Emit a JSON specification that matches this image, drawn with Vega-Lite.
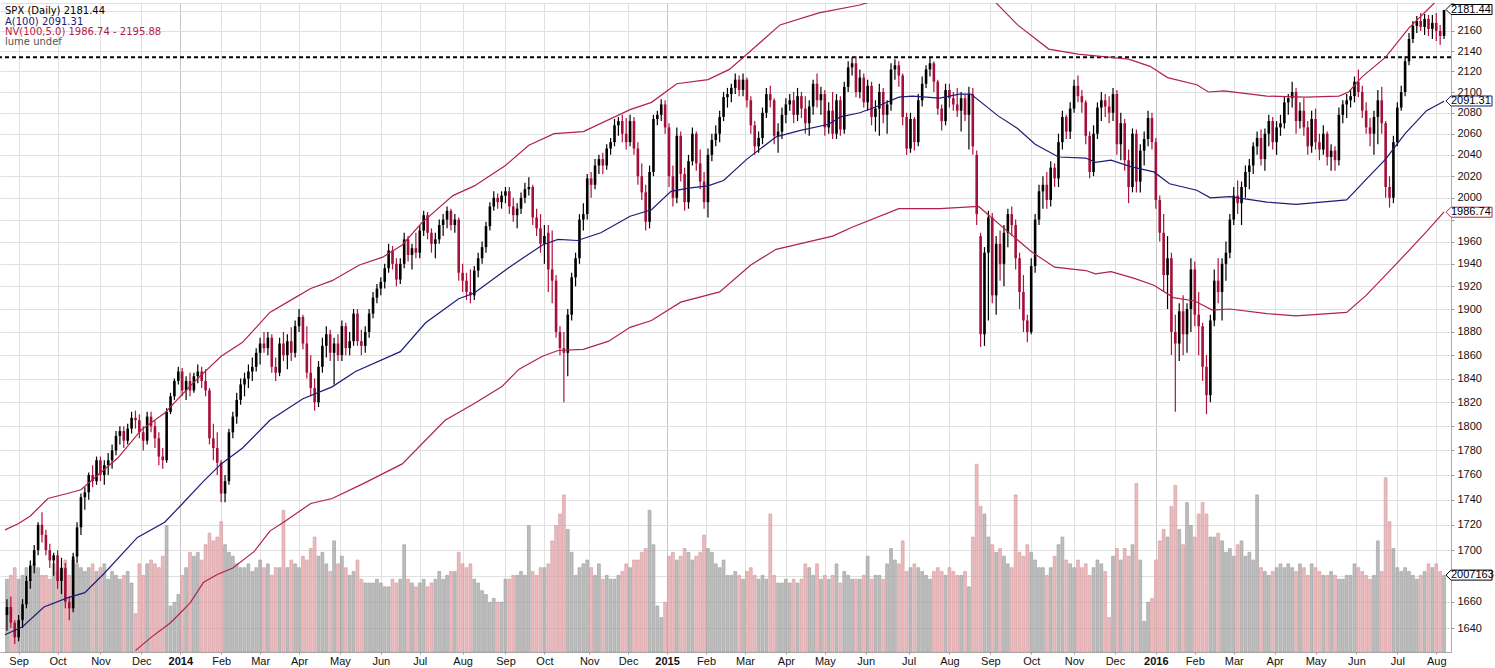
{
"$schema":"https://vega.github.io/schema/vega-lite/v6.json",
"width":1451,"height":649,
"autosize":{"type":"none"},
"padding":{"left":0,"top":3,"right":44,"bottom":16},
"background":"white",
"config":{"view":{"stroke":null},"font":"Liberation Sans"},
"datasets":{
"bars":[
{"d":1,"o":1650,"h":1662,"l":1638,"c":1656,"v":1.9},{"d":3,"o":1656,"h":1664,"l":1640,"c":1644,"v":2.0},{"d":5,"o":1644,"h":1646,"l":1628,"c":1633,"v":2.2},{"d":7,"o":1633,"h":1650,"l":1630,"c":1646,"v":1.9},{"d":9,"o":1646,"h":1662,"l":1640,"c":1658,"v":2.0},{"d":11,"o":1658,"h":1680,"l":1655,"c":1676,"v":2.2},{"d":13,"o":1676,"h":1692,"l":1670,"c":1688,"v":1.9},{"d":15,"o":1688,"h":1704,"l":1682,"c":1700,"v":2.3},{"d":17,"o":1700,"h":1722,"l":1696,"c":1720,"v":2.2},{"d":19,"o":1720,"h":1730,"l":1706,"c":1712,"v":2.0},
{"d":21,"o":1712,"h":1716,"l":1696,"c":1700,"v":2.0},{"d":23,"o":1700,"h":1705,"l":1686,"c":1692,"v":1.9},{"d":25,"o":1692,"h":1698,"l":1680,"c":1696,"v":2.3},{"d":27,"o":1696,"h":1700,"l":1670,"c":1676,"v":2.1},{"d":29,"o":1676,"h":1694,"l":1666,"c":1686,"v":2.2},{"d":31,"o":1686,"h":1690,"l":1655,"c":1660,"v":2.4},{"d":33,"o":1660,"h":1664,"l":1646,"c":1655,"v":2.0},{"d":35,"o":1655,"h":1698,"l":1652,"c":1695,"v":2.4},{"d":37,"o":1695,"h":1722,"l":1690,"c":1718,"v":2.3},{"d":39,"o":1718,"h":1745,"l":1712,"c":1742,"v":2.2},
{"d":41,"o":1742,"h":1750,"l":1732,"c":1746,"v":2.1},{"d":43,"o":1746,"h":1762,"l":1740,"c":1760,"v":2.2},{"d":45,"o":1760,"h":1768,"l":1750,"c":1755,"v":2.3},{"d":47,"o":1755,"h":1775,"l":1752,"c":1772,"v":2.1},{"d":49,"o":1772,"h":1775,"l":1755,"c":1760,"v":2.2},{"d":51,"o":1760,"h":1772,"l":1752,"c":1768,"v":2.3},{"d":53,"o":1768,"h":1778,"l":1760,"c":1772,"v":1.9},{"d":55,"o":1772,"h":1785,"l":1765,"c":1780,"v":2.1},{"d":57,"o":1780,"h":1796,"l":1776,"c":1792,"v":2.0},{"d":59,"o":1792,"h":1800,"l":1785,"c":1796,"v":1.9},
{"d":61,"o":1796,"h":1800,"l":1782,"c":1788,"v":2.0},{"d":63,"o":1788,"h":1802,"l":1785,"c":1798,"v":2.1},{"d":65,"o":1798,"h":1812,"l":1794,"c":1807,"v":1.8},{"d":67,"o":1807,"h":1813,"l":1798,"c":1805,"v":1.0},{"d":69,"o":1805,"h":1810,"l":1790,"c":1795,"v":2.3},{"d":71,"o":1795,"h":1800,"l":1780,"c":1788,"v":2.0},{"d":73,"o":1788,"h":1812,"l":1785,"c":1808,"v":2.3},{"d":75,"o":1808,"h":1812,"l":1795,"c":1800,"v":2.4},{"d":77,"o":1800,"h":1805,"l":1782,"c":1790,"v":2.3},{"d":79,"o":1790,"h":1795,"l":1768,"c":1775,"v":2.2},
{"d":81,"o":1775,"h":1782,"l":1765,"c":1772,"v":2.5},{"d":83,"o":1772,"h":1815,"l":1770,"c":1812,"v":3.3},{"d":85,"o":1812,"h":1828,"l":1810,"c":1825,"v":1.2},{"d":87,"o":1825,"h":1840,"l":1822,"c":1838,"v":1.3},{"d":89,"o":1838,"h":1850,"l":1835,"c":1846,"v":1.5},{"d":91,"o":1846,"h":1849,"l":1825,"c":1830,"v":2.0},{"d":93,"o":1830,"h":1842,"l":1822,"c":1838,"v":2.2},{"d":95,"o":1838,"h":1845,"l":1825,"c":1830,"v":2.6},{"d":97,"o":1830,"h":1845,"l":1828,"c":1842,"v":2.5},{"d":99,"o":1842,"h":1852,"l":1836,"c":1846,"v":2.6},
{"d":101,"o":1846,"h":1850,"l":1832,"c":1838,"v":2.4},{"d":103,"o":1838,"h":1848,"l":1825,"c":1830,"v":2.8},{"d":105,"o":1830,"h":1832,"l":1785,"c":1790,"v":3.1},{"d":107,"o":1790,"h":1802,"l":1772,"c":1782,"v":2.9},{"d":109,"o":1782,"h":1795,"l":1760,"c":1770,"v":3.0},{"d":111,"o":1770,"h":1772,"l":1738,"c":1745,"v":3.4},{"d":113,"o":1745,"h":1760,"l":1738,"c":1755,"v":2.8},{"d":115,"o":1755,"h":1798,"l":1752,"c":1795,"v":2.6},{"d":117,"o":1795,"h":1812,"l":1790,"c":1808,"v":2.5},{"d":119,"o":1808,"h":1828,"l":1802,"c":1822,"v":2.3},
{"d":121,"o":1822,"h":1840,"l":1818,"c":1835,"v":2.2},{"d":123,"o":1835,"h":1845,"l":1825,"c":1840,"v":2.2},{"d":125,"o":1840,"h":1852,"l":1832,"c":1846,"v":2.3},{"d":127,"o":1846,"h":1858,"l":1838,"c":1850,"v":2.1},{"d":129,"o":1850,"h":1866,"l":1846,"c":1862,"v":2.2},{"d":131,"o":1862,"h":1875,"l":1852,"c":1870,"v":2.4},{"d":133,"o":1870,"h":1880,"l":1862,"c":1866,"v":2.2},{"d":135,"o":1866,"h":1880,"l":1860,"c":1875,"v":2.3},{"d":137,"o":1875,"h":1878,"l":1845,"c":1850,"v":2.0},{"d":139,"o":1850,"h":1858,"l":1838,"c":1845,"v":2.2},
{"d":141,"o":1845,"h":1875,"l":1842,"c":1870,"v":2.2},{"d":143,"o":1870,"h":1880,"l":1855,"c":1860,"v":3.7},{"d":145,"o":1860,"h":1878,"l":1848,"c":1872,"v":2.2},{"d":147,"o":1872,"h":1884,"l":1855,"c":1862,"v":2.4},{"d":149,"o":1862,"h":1890,"l":1858,"c":1885,"v":2.3},{"d":151,"o":1885,"h":1900,"l":1880,"c":1893,"v":2.2},{"d":153,"o":1893,"h":1895,"l":1865,"c":1870,"v":2.5},{"d":155,"o":1870,"h":1885,"l":1840,"c":1845,"v":2.4},{"d":157,"o":1845,"h":1860,"l":1825,"c":1832,"v":2.7},{"d":159,"o":1832,"h":1840,"l":1813,"c":1820,"v":3.0},
{"d":161,"o":1820,"h":1855,"l":1816,"c":1850,"v":2.5},{"d":163,"o":1850,"h":1875,"l":1845,"c":1868,"v":2.6},{"d":165,"o":1868,"h":1885,"l":1858,"c":1878,"v":2.3},{"d":167,"o":1878,"h":1882,"l":1855,"c":1862,"v":2.1},{"d":169,"o":1862,"h":1875,"l":1835,"c":1870,"v":2.9},{"d":171,"o":1870,"h":1878,"l":1855,"c":1860,"v":2.3},{"d":173,"o":1860,"h":1890,"l":1855,"c":1885,"v":2.5},{"d":175,"o":1885,"h":1888,"l":1860,"c":1866,"v":2.2},{"d":177,"o":1866,"h":1880,"l":1860,"c":1872,"v":2.0},{"d":179,"o":1872,"h":1900,"l":1868,"c":1896,"v":2.1},
{"d":181,"o":1896,"h":1900,"l":1868,"c":1872,"v":2.4},{"d":183,"o":1872,"h":1882,"l":1860,"c":1868,"v":1.9},{"d":185,"o":1868,"h":1885,"l":1862,"c":1880,"v":1.8},{"d":187,"o":1880,"h":1900,"l":1875,"c":1896,"v":1.8},{"d":189,"o":1896,"h":1915,"l":1892,"c":1910,"v":1.8},{"d":191,"o":1910,"h":1922,"l":1905,"c":1918,"v":1.9},{"d":193,"o":1918,"h":1928,"l":1912,"c":1924,"v":1.8},{"d":195,"o":1924,"h":1940,"l":1918,"c":1936,"v":1.7},{"d":197,"o":1936,"h":1958,"l":1932,"c":1952,"v":1.7},{"d":199,"o":1952,"h":1956,"l":1935,"c":1940,"v":1.9},
{"d":201,"o":1940,"h":1945,"l":1920,"c":1926,"v":1.8},{"d":203,"o":1926,"h":1945,"l":1922,"c":1940,"v":1.9},{"d":205,"o":1940,"h":1968,"l":1936,"c":1962,"v":2.8},{"d":207,"o":1962,"h":1965,"l":1942,"c":1948,"v":1.9},{"d":209,"o":1948,"h":1958,"l":1935,"c":1954,"v":1.8},{"d":211,"o":1954,"h":1968,"l":1945,"c":1950,"v":1.7},{"d":213,"o":1950,"h":1975,"l":1945,"c":1970,"v":1.8},{"d":215,"o":1970,"h":1988,"l":1965,"c":1984,"v":1.9},{"d":217,"o":1984,"h":1987,"l":1962,"c":1968,"v":1.7},{"d":219,"o":1968,"h":1972,"l":1950,"c":1958,"v":1.8},
{"d":221,"o":1958,"h":1968,"l":1945,"c":1962,"v":1.9},{"d":223,"o":1962,"h":1980,"l":1958,"c":1975,"v":2.1},{"d":225,"o":1975,"h":1985,"l":1965,"c":1980,"v":1.9},{"d":227,"o":1980,"h":1992,"l":1972,"c":1988,"v":2.0},{"d":229,"o":1988,"h":1990,"l":1970,"c":1975,"v":2.1},{"d":231,"o":1975,"h":1985,"l":1968,"c":1980,"v":2.1},{"d":233,"o":1980,"h":1982,"l":1925,"c":1932,"v":2.6},{"d":235,"o":1932,"h":1940,"l":1915,"c":1925,"v":2.3},{"d":237,"o":1925,"h":1932,"l":1908,"c":1915,"v":2.2},{"d":239,"o":1915,"h":1935,"l":1905,"c":1912,"v":2.3},
{"d":241,"o":1912,"h":1938,"l":1908,"c":1934,"v":1.9},{"d":243,"o":1934,"h":1950,"l":1928,"c":1945,"v":1.8},{"d":245,"o":1945,"h":1960,"l":1940,"c":1955,"v":1.6},{"d":247,"o":1955,"h":1978,"l":1950,"c":1974,"v":1.5},{"d":249,"o":1974,"h":1996,"l":1970,"c":1992,"v":1.3},{"d":251,"o":1992,"h":2006,"l":1988,"c":2000,"v":1.4},{"d":253,"o":2000,"h":2004,"l":1990,"c":1996,"v":1.3},{"d":255,"o":1996,"h":2006,"l":1990,"c":2002,"v":1.3},{"d":257,"o":2002,"h":2010,"l":1995,"c":2006,"v":1.9},{"d":259,"o":2006,"h":2010,"l":1985,"c":1992,"v":1.9},
{"d":261,"o":1992,"h":2000,"l":1978,"c":1984,"v":2.0},{"d":263,"o":1984,"h":1995,"l":1972,"c":1990,"v":2.0},{"d":265,"o":1990,"h":2005,"l":1985,"c":2000,"v":2.1},{"d":267,"o":2000,"h":2014,"l":1995,"c":2008,"v":2.0},{"d":269,"o":2008,"h":2019,"l":2002,"c":2010,"v":3.3},{"d":271,"o":2010,"h":2012,"l":1975,"c":1982,"v":2.1},{"d":273,"o":1982,"h":1990,"l":1965,"c":1972,"v":2.0},{"d":275,"o":1972,"h":1985,"l":1950,"c":1958,"v":2.2},{"d":277,"o":1958,"h":1975,"l":1940,"c":1965,"v":2.2},{"d":279,"o":1968,"h":1975,"l":1915,"c":1935,"v":2.3},
{"d":281,"o":1935,"h":1970,"l":1905,"c":1925,"v":2.9},{"d":283,"o":1925,"h":1930,"l":1875,"c":1880,"v":3.3},{"d":285,"o":1880,"h":1885,"l":1860,"c":1866,"v":3.6},{"d":287,"o":1866,"h":1880,"l":1820,"c":1862,"v":4.1},{"d":289,"o":1862,"h":1900,"l":1842,"c":1895,"v":3.2},{"d":291,"o":1895,"h":1932,"l":1890,"c":1928,"v":2.6},{"d":293,"o":1928,"h":1950,"l":1920,"c":1945,"v":2.0},{"d":295,"o":1945,"h":1985,"l":1940,"c":1980,"v":2.2},{"d":297,"o":1980,"h":1995,"l":1970,"c":1985,"v":2.3},{"d":299,"o":1985,"h":2022,"l":1980,"c":2018,"v":2.4},
{"d":301,"o":2018,"h":2024,"l":2000,"c":2012,"v":2.2},{"d":303,"o":2012,"h":2036,"l":2008,"c":2030,"v":2.0},{"d":305,"o":2030,"h":2040,"l":2022,"c":2036,"v":2.3},{"d":307,"o":2036,"h":2042,"l":2022,"c":2030,"v":1.9},{"d":309,"o":2030,"h":2050,"l":2026,"c":2046,"v":2.0},{"d":311,"o":2046,"h":2056,"l":2040,"c":2052,"v":1.9},{"d":313,"o":2052,"h":2074,"l":2048,"c":2068,"v":1.9},{"d":315,"o":2068,"h":2076,"l":2058,"c":2072,"v":2.0},{"d":317,"o":2072,"h":2078,"l":2052,"c":2060,"v":2.1},{"d":319,"o":2060,"h":2075,"l":2045,"c":2052,"v":2.3},
{"d":321,"o":2052,"h":2078,"l":2048,"c":2072,"v":2.2},{"d":323,"o":2072,"h":2076,"l":2040,"c":2046,"v":2.4},{"d":325,"o":2046,"h":2052,"l":2012,"c":2020,"v":2.4},{"d":327,"o":2020,"h":2032,"l":1998,"c":2005,"v":2.6},{"d":329,"o":2005,"h":2012,"l":1970,"c":1978,"v":2.7},{"d":331,"o":1978,"h":2030,"l":1972,"c":2024,"v":3.7},{"d":333,"o":2024,"h":2078,"l":2020,"c":2074,"v":2.8},{"d":335,"o":2074,"h":2082,"l":2068,"c":2078,"v":1.2},{"d":337,"o":2078,"h":2093,"l":2072,"c":2088,"v":0.9},{"d":339,"o":2088,"h":2092,"l":2060,"c":2066,"v":1.3},
{"d":341,"o":2066,"h":2070,"l":2010,"c":2020,"v":2.5},{"d":343,"o":2020,"h":2030,"l":1992,"c":2000,"v":2.6},{"d":345,"o":2000,"h":2066,"l":1995,"c":2058,"v":2.4},{"d":347,"o":2058,"h":2062,"l":2015,"c":2022,"v":2.5},{"d":349,"o":2022,"h":2028,"l":1988,"c":1996,"v":2.7},{"d":351,"o":1996,"h":2040,"l":1990,"c":2034,"v":2.6},{"d":353,"o":2034,"h":2066,"l":2030,"c":2060,"v":2.4},{"d":355,"o":2060,"h":2062,"l":2025,"c":2032,"v":2.5},{"d":357,"o":2032,"h":2045,"l":2008,"c":2015,"v":2.6},{"d":359,"o":2015,"h":2024,"l":1990,"c":1996,"v":3.05},
{"d":361,"o":1996,"h":2046,"l":1982,"c":2040,"v":2.7},{"d":363,"o":2040,"h":2060,"l":2034,"c":2054,"v":2.6},{"d":365,"o":2054,"h":2068,"l":2048,"c":2060,"v":2.3},{"d":367,"o":2060,"h":2082,"l":2052,"c":2076,"v":2.2},{"d":369,"o":2076,"h":2100,"l":2072,"c":2095,"v":2.4},{"d":371,"o":2095,"h":2104,"l":2085,"c":2098,"v":2.0},{"d":373,"o":2098,"h":2108,"l":2090,"c":2104,"v":2.0},{"d":375,"o":2104,"h":2118,"l":2098,"c":2112,"v":2.1},{"d":377,"o":2112,"h":2116,"l":2096,"c":2102,"v":2.0},{"d":379,"o":2102,"h":2118,"l":2096,"c":2112,"v":1.9},
{"d":381,"o":2112,"h":2114,"l":2085,"c":2092,"v":2.1},{"d":383,"o":2092,"h":2096,"l":2060,"c":2068,"v":2.2},{"d":385,"o":2068,"h":2072,"l":2040,"c":2048,"v":2.0},{"d":387,"o":2048,"h":2062,"l":2042,"c":2056,"v":1.9},{"d":389,"o":2056,"h":2085,"l":2050,"c":2080,"v":2.0},{"d":391,"o":2080,"h":2104,"l":2075,"c":2098,"v":1.9},{"d":393,"o":2098,"h":2106,"l":2085,"c":2092,"v":3.6},{"d":395,"o":2092,"h":2094,"l":2050,"c":2058,"v":2.0},{"d":397,"o":2058,"h":2070,"l":2042,"c":2062,"v":1.8},{"d":399,"o":2062,"h":2085,"l":2055,"c":2078,"v":1.8},
{"d":401,"o":2078,"h":2094,"l":2070,"c":2088,"v":1.9},{"d":403,"o":2088,"h":2098,"l":2082,"c":2092,"v":1.8},{"d":405,"o":2092,"h":2100,"l":2070,"c":2078,"v":1.9},{"d":407,"o":2078,"h":2104,"l":2072,"c":2096,"v":1.8},{"d":409,"o":2096,"h":2100,"l":2075,"c":2084,"v":1.9},{"d":411,"o":2084,"h":2096,"l":2060,"c":2070,"v":2.3},{"d":413,"o":2070,"h":2092,"l":2058,"c":2086,"v":2.2},{"d":415,"o":2086,"h":2112,"l":2078,"c":2108,"v":2.0},{"d":417,"o":2108,"h":2118,"l":2085,"c":2092,"v":2.3},{"d":419,"o":2092,"h":2105,"l":2078,"c":2098,"v":1.9},
{"d":421,"o":2098,"h":2102,"l":2058,"c":2066,"v":2.0},{"d":423,"o":2066,"h":2090,"l":2060,"c":2082,"v":1.9},{"d":425,"o":2082,"h":2100,"l":2055,"c":2060,"v":2.0},{"d":427,"o":2060,"h":2098,"l":2055,"c":2092,"v":2.3},{"d":429,"o":2092,"h":2096,"l":2058,"c":2064,"v":1.8},{"d":431,"o":2064,"h":2110,"l":2060,"c":2105,"v":2.1},{"d":433,"o":2105,"h":2130,"l":2100,"c":2124,"v":2.0},{"d":435,"o":2124,"h":2134,"l":2116,"c":2128,"v":1.9},{"d":437,"o":2128,"h":2135,"l":2095,"c":2100,"v":1.9},{"d":439,"o":2100,"h":2122,"l":2094,"c":2114,"v":1.9},
{"d":441,"o":2114,"h":2118,"l":2085,"c":2090,"v":2.0},{"d":443,"o":2090,"h":2112,"l":2082,"c":2106,"v":2.5},{"d":445,"o":2106,"h":2110,"l":2068,"c":2076,"v":1.9},{"d":447,"o":2076,"h":2092,"l":2062,"c":2084,"v":2.0},{"d":449,"o":2084,"h":2108,"l":2058,"c":2100,"v":2.0},{"d":451,"o":2100,"h":2104,"l":2070,"c":2078,"v":1.9},{"d":453,"o":2078,"h":2092,"l":2060,"c":2088,"v":2.3},{"d":455,"o":2088,"h":2128,"l":2082,"c":2122,"v":2.7},{"d":457,"o":2122,"h":2132,"l":2112,"c":2126,"v":2.4},{"d":459,"o":2126,"h":2130,"l":2105,"c":2116,"v":2.3},
{"d":461,"o":2116,"h":2118,"l":2068,"c":2076,"v":2.9},{"d":463,"o":2076,"h":2080,"l":2040,"c":2046,"v":2.1},{"d":465,"o":2046,"h":2080,"l":2042,"c":2074,"v":2.2},{"d":467,"o":2074,"h":2076,"l":2044,"c":2052,"v":2.3},{"d":469,"o":2052,"h":2098,"l":2048,"c":2092,"v":2.2},{"d":471,"o":2092,"h":2115,"l":2086,"c":2108,"v":2.1},{"d":473,"o":2108,"h":2126,"l":2104,"c":2122,"v":2.0},{"d":475,"o":2122,"h":2134,"l":2115,"c":2128,"v":1.9},{"d":477,"o":2128,"h":2130,"l":2100,"c":2110,"v":2.1},{"d":479,"o":2110,"h":2112,"l":2078,"c":2084,"v":2.2},
{"d":481,"o":2084,"h":2088,"l":2063,"c":2072,"v":2.1},{"d":483,"o":2072,"h":2108,"l":2068,"c":2102,"v":2.0},{"d":485,"o":2102,"h":2108,"l":2085,"c":2094,"v":2.2},{"d":487,"o":2094,"h":2100,"l":2082,"c":2088,"v":2.1},{"d":489,"o":2088,"h":2104,"l":2076,"c":2082,"v":2.0},{"d":491,"o":2082,"h":2100,"l":2062,"c":2094,"v":2.0},{"d":493,"o":2094,"h":2098,"l":2072,"c":2078,"v":2.1},{"d":495,"o":2078,"h":2105,"l":2045,"c":2098,"v":1.7},{"d":497,"o":2098,"h":2104,"l":2040,"c":2048,"v":3.0},{"d":499,"o":2040,"h":2044,"l":1975,"c":1985,"v":4.9},
{"d":501,"o":1965,"h":1968,"l":1867,"c":1878,"v":3.8},{"d":503,"o":1878,"h":1955,"l":1868,"c":1950,"v":3.6},{"d":505,"o":1950,"h":1988,"l":1890,"c":1982,"v":3.0},{"d":507,"o":1982,"h":1986,"l":1905,"c":1912,"v":2.8},{"d":509,"o":1912,"h":1965,"l":1895,"c":1958,"v":2.6},{"d":511,"o":1958,"h":1970,"l":1925,"c":1940,"v":2.7},{"d":513,"o":1940,"h":1975,"l":1920,"c":1968,"v":2.5},{"d":515,"o":1968,"h":1990,"l":1955,"c":1985,"v":2.3},{"d":517,"o":1985,"h":1992,"l":1965,"c":1975,"v":2.2},{"d":519,"o":1975,"h":1980,"l":1935,"c":1945,"v":4.1},
{"d":521,"o":1945,"h":1950,"l":1900,"c":1915,"v":2.6},{"d":523,"o":1915,"h":1930,"l":1880,"c":1890,"v":2.5},{"d":525,"o":1890,"h":1895,"l":1871,"c":1880,"v":2.8},{"d":527,"o":1880,"h":1945,"l":1878,"c":1938,"v":2.6},{"d":529,"o":1938,"h":1985,"l":1932,"c":1980,"v":2.4},{"d":531,"o":1980,"h":2012,"l":1975,"c":2006,"v":2.2},{"d":533,"o":2006,"h":2020,"l":1990,"c":2012,"v":2.2},{"d":535,"o":2012,"h":2024,"l":1990,"c":1998,"v":2.0},{"d":537,"o":1998,"h":2034,"l":1992,"c":2028,"v":2.2},{"d":539,"o":2028,"h":2032,"l":2010,"c":2018,"v":2.5},
{"d":541,"o":2018,"h":2060,"l":2010,"c":2052,"v":2.8},{"d":543,"o":2052,"h":2082,"l":2045,"c":2076,"v":3.0},{"d":545,"o":2076,"h":2078,"l":2055,"c":2062,"v":2.4},{"d":547,"o":2062,"h":2090,"l":2055,"c":2084,"v":2.3},{"d":549,"o":2084,"h":2112,"l":2080,"c":2106,"v":2.2},{"d":551,"o":2106,"h":2116,"l":2090,"c":2096,"v":2.4},{"d":553,"o":2096,"h":2102,"l":2080,"c":2090,"v":2.2},{"d":555,"o":2090,"h":2092,"l":2050,"c":2058,"v":2.3},{"d":557,"o":2058,"h":2062,"l":2018,"c":2024,"v":2.0},{"d":559,"o":2024,"h":2068,"l":2020,"c":2060,"v":2.2},
{"d":561,"o":2060,"h":2090,"l":2055,"c":2085,"v":2.4},{"d":563,"o":2085,"h":2100,"l":2072,"c":2092,"v":2.3},{"d":565,"o":2092,"h":2098,"l":2076,"c":2086,"v":2.1},{"d":567,"o":2086,"h":2096,"l":2070,"c":2080,"v":0.9},{"d":569,"o":2080,"h":2104,"l":2072,"c":2098,"v":2.5},{"d":571,"o":2098,"h":2102,"l":2040,"c":2050,"v":2.7},{"d":573,"o":2050,"h":2080,"l":2035,"c":2070,"v":2.4},{"d":575,"o":2070,"h":2074,"l":2025,"c":2035,"v":2.7},{"d":577,"o":2035,"h":2045,"l":1995,"c":2010,"v":2.5},{"d":579,"o":2010,"h":2065,"l":2005,"c":2060,"v":2.8},
{"d":581,"o":2060,"h":2064,"l":2005,"c":2015,"v":4.4},{"d":583,"o":2015,"h":2050,"l":2005,"c":2044,"v":2.4},{"d":585,"o":2044,"h":2062,"l":2030,"c":2055,"v":0.8},{"d":587,"o":2055,"h":2082,"l":2048,"c":2075,"v":1.3},{"d":589,"o":2075,"h":2080,"l":2045,"c":2052,"v":1.4},{"d":591,"o":2052,"h":2056,"l":1990,"c":1998,"v":2.4},{"d":593,"o":1998,"h":2002,"l":1960,"c":1968,"v":2.9},{"d":595,"o":1968,"h":1985,"l":1915,"c":1930,"v":3.2},{"d":597,"o":1930,"h":1965,"l":1900,"c":1945,"v":3.0},{"d":599,"o":1945,"h":1950,"l":1860,"c":1880,"v":3.8},
{"d":601,"o":1880,"h":1895,"l":1812,"c":1870,"v":4.35},{"d":603,"o":1870,"h":1905,"l":1855,"c":1898,"v":3.2},{"d":605,"o":1898,"h":1912,"l":1860,"c":1878,"v":2.8},{"d":607,"o":1878,"h":1905,"l":1862,"c":1900,"v":3.9},{"d":609,"o":1900,"h":1945,"l":1880,"c":1935,"v":3.3},{"d":611,"o":1935,"h":1942,"l":1885,"c":1895,"v":3.0},{"d":613,"o":1895,"h":1915,"l":1860,"c":1885,"v":3.6},{"d":615,"o":1885,"h":1888,"l":1838,"c":1850,"v":3.9},{"d":617,"o":1850,"h":1860,"l":1810,"c":1826,"v":3.6},{"d":619,"o":1826,"h":1895,"l":1820,"c":1890,"v":3.0},
{"d":621,"o":1890,"h":1935,"l":1885,"c":1925,"v":3.0},{"d":623,"o":1925,"h":1945,"l":1905,"c":1915,"v":3.1},{"d":625,"o":1915,"h":1945,"l":1890,"c":1940,"v":2.9},{"d":627,"o":1940,"h":1960,"l":1925,"c":1950,"v":2.6},{"d":629,"o":1950,"h":1985,"l":1945,"c":1980,"v":2.7},{"d":631,"o":1980,"h":2010,"l":1975,"c":2002,"v":2.5},{"d":633,"o":2002,"h":2016,"l":1985,"c":1995,"v":2.8},{"d":635,"o":1995,"h":2015,"l":1975,"c":2010,"v":2.9},{"d":637,"o":2010,"h":2030,"l":2000,"c":2024,"v":2.5},{"d":639,"o":2024,"h":2036,"l":2008,"c":2030,"v":2.6},
{"d":641,"o":2030,"h":2052,"l":2022,"c":2048,"v":2.4},{"d":643,"o":2048,"h":2062,"l":2040,"c":2056,"v":4.1},{"d":645,"o":2056,"h":2064,"l":2030,"c":2036,"v":2.2},{"d":647,"o":2036,"h":2065,"l":2025,"c":2060,"v":2.1},{"d":649,"o":2060,"h":2078,"l":2048,"c":2072,"v":2.0},{"d":651,"o":2072,"h":2076,"l":2045,"c":2052,"v":2.1},{"d":653,"o":2052,"h":2072,"l":2040,"c":2066,"v":2.2},{"d":655,"o":2066,"h":2078,"l":2058,"c":2070,"v":2.3},{"d":657,"o":2070,"h":2096,"l":2065,"c":2090,"v":2.2},{"d":659,"o":2090,"h":2098,"l":2078,"c":2094,"v":2.3},
{"d":661,"o":2094,"h":2110,"l":2085,"c":2100,"v":2.2},{"d":663,"o":2100,"h":2104,"l":2060,"c":2072,"v":2.1},{"d":665,"o":2072,"h":2090,"l":2065,"c":2082,"v":2.3},{"d":667,"o":2082,"h":2094,"l":2058,"c":2066,"v":2.2},{"d":669,"o":2066,"h":2072,"l":2040,"c":2048,"v":2.0},{"d":671,"o":2048,"h":2082,"l":2042,"c":2074,"v":2.3},{"d":673,"o":2074,"h":2084,"l":2045,"c":2052,"v":2.2},{"d":675,"o":2052,"h":2060,"l":2035,"c":2045,"v":2.1},{"d":677,"o":2045,"h":2068,"l":2040,"c":2060,"v":2.0},{"d":679,"o":2060,"h":2062,"l":2030,"c":2038,"v":2.0},
{"d":681,"o":2038,"h":2050,"l":2025,"c":2044,"v":2.1},{"d":683,"o":2044,"h":2048,"l":2025,"c":2035,"v":2.0},{"d":685,"o":2035,"h":2085,"l":2030,"c":2078,"v":1.9},{"d":687,"o":2078,"h":2092,"l":2070,"c":2088,"v":1.9},{"d":689,"o":2088,"h":2098,"l":2075,"c":2092,"v":2.0},{"d":691,"o":2092,"h":2102,"l":2085,"c":2096,"v":2.0},{"d":693,"o":2096,"h":2115,"l":2090,"c":2110,"v":2.3},{"d":695,"o":2110,"h":2122,"l":2095,"c":2100,"v":2.2},{"d":697,"o":2100,"h":2106,"l":2075,"c":2082,"v":2.1},{"d":699,"o":2082,"h":2090,"l":2060,"c":2066,"v":2.0},
{"d":701,"o":2066,"h":2075,"l":2048,"c":2060,"v":1.9},{"d":703,"o":2060,"h":2082,"l":2040,"c":2076,"v":2.0},{"d":705,"o":2076,"h":2102,"l":2050,"c":2092,"v":2.9},{"d":707,"o":2092,"h":2105,"l":2060,"c":2070,"v":2.1},{"d":709,"o":2070,"h":2072,"l":2000,"c":2010,"v":4.55},{"d":711,"o":2010,"h":2020,"l":1991,"c":2000,"v":3.4},{"d":713,"o":2000,"h":2058,"l":1995,"c":2052,"v":2.7},{"d":715,"o":2052,"h":2090,"l":2048,"c":2085,"v":2.2},{"d":717,"o":2085,"h":2106,"l":2082,"c":2100,"v":2.1},{"d":719,"o":2100,"h":2135,"l":2096,"c":2130,"v":2.2},
{"d":721,"o":2130,"h":2158,"l":2126,"c":2152,"v":2.1},{"d":723,"o":2152,"h":2170,"l":2148,"c":2165,"v":2.0},{"d":725,"o":2165,"h":2175,"l":2158,"c":2170,"v":1.9},{"d":727,"o":2170,"h":2178,"l":2160,"c":2164,"v":2.0},{"d":729,"o":2164,"h":2177,"l":2156,"c":2172,"v":2.1},{"d":731,"o":2172,"h":2176,"l":2155,"c":2162,"v":2.3},{"d":733,"o":2162,"h":2176,"l":2152,"c":2168,"v":2.2},{"d":735,"o":2168,"h":2178,"l":2150,"c":2160,"v":2.3},{"d":737,"o":2160,"h":2166,"l":2146,"c":2155,"v":2.1},{"d":739,"o":2155,"h":2181,"l":2152,"c":2181,"v":2.0}
],
"bands":[
{"d":0,"s":"upper","p":1716},{"d":7,"s":"upper","p":1721},{"d":13,"s":"upper","p":1727},{"d":22,"s":"upper","p":1741},{"d":32,"s":"upper","p":1745},{"d":39,"s":"upper","p":1748},{"d":58,"s":"upper","p":1774},{"d":70,"s":"upper","p":1797},{"d":82,"s":"upper","p":1811},{"d":97,"s":"upper","p":1837},{"d":111,"s":"upper","p":1859},{"d":122,"s":"upper","p":1871},{"d":136,"s":"upper","p":1897},{"d":149,"s":"upper","p":1910},{"d":157,"s":"upper","p":1918},{"d":168,"s":"upper","p":1925},{"d":182,"s":"upper","p":1939},{"d":194,"s":"upper","p":1946},{"d":204,"s":"upper","p":1957},{"d":214,"s":"upper","p":1977},{"d":230,"s":"upper","p":2002},{"d":241,"s":"upper","p":2011},{"d":257,"s":"upper","p":2030},{"d":269,"s":"upper","p":2049},{"d":282,"s":"upper","p":2060},{"d":297,"s":"upper","p":2062},{"d":321,"s":"upper","p":2083},{"d":332,"s":"upper","p":2090},{"d":345,"s":"upper","p":2108},{"d":361,"s":"upper","p":2112},{"d":372,"s":"upper","p":2122},{"d":384,"s":"upper","p":2142},{"d":398,"s":"upper","p":2166},{"d":418,"s":"upper","p":2178},{"d":439,"s":"upper","p":2186},{"d":449,"s":"upper","p":2192},{"d":477,"s":"upper","p":2215},{"d":508,"s":"upper","p":2190},{"d":520,"s":"upper","p":2166},{"d":536,"s":"upper","p":2142},{"d":551,"s":"upper","p":2137},{"d":577,"s":"upper","p":2132},{"d":588,"s":"upper","p":2125},{"d":597,"s":"upper","p":2114},{"d":612,"s":"upper","p":2107},{"d":618,"s":"upper","p":2100},{"d":626,"s":"upper","p":2101},{"d":648,"s":"upper","p":2096},{"d":668,"s":"upper","p":2095},{"d":685,"s":"upper","p":2096},{"d":690,"s":"upper","p":2100},{"d":697,"s":"upper","p":2115},{"d":709,"s":"upper","p":2134},{"d":721,"s":"upper","p":2163},{"d":734,"s":"upper","p":2188},{"d":739,"s":"upper","p":2196},
{"d":0,"s":"ma","p":1635},{"d":9,"s":"ma","p":1641},{"d":20,"s":"ma","p":1656},{"d":32,"s":"ma","p":1663},{"d":41,"s":"ma","p":1667},{"d":51,"s":"ma","p":1682},{"d":68,"s":"ma","p":1710},{"d":82,"s":"ma","p":1722},{"d":90,"s":"ma","p":1735},{"d":102,"s":"ma","p":1755},{"d":111,"s":"ma","p":1769},{"d":122,"s":"ma","p":1782},{"d":136,"s":"ma","p":1805},{"d":153,"s":"ma","p":1823},{"d":168,"s":"ma","p":1833},{"d":180,"s":"ma","p":1846},{"d":203,"s":"ma","p":1863},{"d":216,"s":"ma","p":1888},{"d":233,"s":"ma","p":1909},{"d":241,"s":"ma","p":1914},{"d":259,"s":"ma","p":1937},{"d":276,"s":"ma","p":1957},{"d":284,"s":"ma","p":1962},{"d":294,"s":"ma","p":1961},{"d":306,"s":"ma","p":1968},{"d":321,"s":"ma","p":1983},{"d":332,"s":"ma","p":1989},{"d":342,"s":"ma","p":2006},{"d":351,"s":"ma","p":2009},{"d":361,"s":"ma","p":2011},{"d":369,"s":"ma","p":2016},{"d":381,"s":"ma","p":2036},{"d":396,"s":"ma","p":2057},{"d":408,"s":"ma","p":2063},{"d":423,"s":"ma","p":2069},{"d":429,"s":"ma","p":2076},{"d":439,"s":"ma","p":2080},{"d":449,"s":"ma","p":2087},{"d":459,"s":"ma","p":2095},{"d":466,"s":"ma","p":2096},{"d":480,"s":"ma","p":2094},{"d":490,"s":"ma","p":2098},{"d":496,"s":"ma","p":2098},{"d":510,"s":"ma","p":2077},{"d":520,"s":"ma","p":2065},{"d":529,"s":"ma","p":2050},{"d":541,"s":"ma","p":2038},{"d":555,"s":"ma","p":2037},{"d":560,"s":"ma","p":2033},{"d":568,"s":"ma","p":2035},{"d":578,"s":"ma","p":2029},{"d":590,"s":"ma","p":2024},{"d":598,"s":"ma","p":2013},{"d":612,"s":"ma","p":2007},{"d":619,"s":"ma","p":2000},{"d":629,"s":"ma","p":2001},{"d":648,"s":"ma","p":1996},{"d":663,"s":"ma","p":1994},{"d":689,"s":"ma","p":1998},{"d":699,"s":"ma","p":2017},{"d":709,"s":"ma","p":2036},{"d":719,"s":"ma","p":2060},{"d":730,"s":"ma","p":2082},{"d":739,"s":"ma","p":2091},
{"d":67,"s":"lower","p":1623},{"d":75,"s":"lower","p":1633},{"d":85,"s":"lower","p":1644},{"d":95,"s":"lower","p":1659},{"d":102,"s":"lower","p":1675},{"d":109,"s":"lower","p":1681},{"d":117,"s":"lower","p":1686},{"d":128,"s":"lower","p":1699},{"d":136,"s":"lower","p":1715},{"d":144,"s":"lower","p":1723},{"d":157,"s":"lower","p":1737},{"d":168,"s":"lower","p":1741},{"d":184,"s":"lower","p":1753},{"d":204,"s":"lower","p":1769},{"d":226,"s":"lower","p":1805},{"d":241,"s":"lower","p":1819},{"d":255,"s":"lower","p":1833},{"d":264,"s":"lower","p":1848},{"d":276,"s":"lower","p":1859},{"d":284,"s":"lower","p":1864},{"d":297,"s":"lower","p":1865},{"d":310,"s":"lower","p":1872},{"d":321,"s":"lower","p":1884},{"d":332,"s":"lower","p":1890},{"d":347,"s":"lower","p":1906},{"d":367,"s":"lower","p":1915},{"d":383,"s":"lower","p":1939},{"d":396,"s":"lower","p":1953},{"d":425,"s":"lower","p":1965},{"d":435,"s":"lower","p":1973},{"d":459,"s":"lower","p":1990},{"d":480,"s":"lower","p":1990},{"d":500,"s":"lower","p":1992},{"d":515,"s":"lower","p":1969},{"d":527,"s":"lower","p":1951},{"d":539,"s":"lower","p":1937},{"d":555,"s":"lower","p":1934},{"d":560,"s":"lower","p":1931},{"d":568,"s":"lower","p":1933},{"d":580,"s":"lower","p":1927},{"d":590,"s":"lower","p":1921},{"d":600,"s":"lower","p":1910},{"d":611,"s":"lower","p":1907},{"d":620,"s":"lower","p":1899},{"d":629,"s":"lower","p":1900},{"d":648,"s":"lower","p":1896},{"d":663,"s":"lower","p":1894},{"d":689,"s":"lower","p":1897},{"d":699,"s":"lower","p":1912},{"d":714,"s":"lower","p":1939},{"d":730,"s":"lower","p":1969},{"d":739,"s":"lower","p":1987}
]
},
"data":{"name":"bars"},
"layer":[
{"layer":[
{"mark":{"type":"bar","width":2.8,"strokeWidth":0.7,"opacity":0.8},
"encoding":{
"x":{"field":"d","type":"quantitative","scale":{"domain":[0,740],"nice":false,"zero":false},"title":null,
"axis":{"orient":"bottom","values":[7,27,49,70,90,111,131,151,172,193,213,235,257,277,300,320,340,360,380,401,421,442,464,485,506,527,549,570,591,611,631,652,673,694,715,735],
"labelExpr":"{'7':'Sep','27':'Oct','49':'Nov','70':'Dec','90':'2014','111':'Feb','131':'Mar','151':'Apr','172':'May','193':'Jun','213':'Jul','235':'Aug','257':'Sep','277':'Oct','300':'Nov','320':'Dec','340':'2015','360':'Feb','380':'Mar','401':'Apr','421':'May','442':'Jun','464':'Jul','485':'Aug','506':'Sep','527':'Oct','549':'Nov','570':'Dec','591':'2016','611':'Feb','631':'Mar','652':'Apr','673':'May','694':'Jun','715':'Jul','735':'Aug'}[datum.value]",
"labelFontSize":11,"labelColor":"#111","labelPadding":1,"tickSize":2,"tickColor":"#999","domainColor":"#aaa","grid":true,"gridColor":{"condition":{"test":"datum.value===90||datum.value===340||datum.value===591","value":"#c4c4c4"},"value":"#e0e0e0"},
"labelFontWeight":{"condition":{"test":"datum.value===90||datum.value===340||datum.value===591","value":"bold"},"value":"normal"},"labelOverlap":false,"labelBound":false,"labelFlush":false}},
"y":{"field":"v","type":"quantitative","scale":{"domain":[0,16.94],"nice":false},"axis":null},
"fill":{"condition":{"test":"datum.c<datum.o","value":"#eaa9ad"},"value":"#adadad"},
"stroke":{"condition":{"test":"datum.c<datum.o","value":"#c98a8e"},"value":"#8c8c8c"}}},
{"data":{"values":[{"label":"2007163"}]},"mark":{"type":"point","shape":"M0,0 L5,-5 L46,-5 L46,5 L5,5 Z","size":4,"filled":true,"fill":"white","stroke":"black","strokeWidth":1,"opacity":1,"clip":false},
"encoding":{"x":{"datum":740,"type":"quantitative"},"y":{"datum":2.007,"type":"quantitative"}}},
{"data":{"values":[{"label":"2007163"}]},"mark":{"type":"text","align":"left","baseline":"middle","dx":5,"fontSize":11,"color":"black"},
"encoding":{"x":{"datum":740,"type":"quantitative"},"y":{"datum":2.007,"type":"quantitative"},"text":{"field":"label"}}}
]},
{"layer":[
{"data":{"values":[{"level":2134}]},"mark":{"type":"rule","color":"black","strokeWidth":2,"strokeDash":[4,3]},
"encoding":{"y":{"field":"level","type":"quantitative","title":null,"scale":{"type":"log","domain":[1622,2188],"nice":false,"zero":false},
"axis":{"orient":"right","values":[1640,1660,1680,1700,1720,1740,1760,1780,1800,1820,1840,1860,1880,1900,1920,1940,1960,1980,2000,2020,2040,2060,2080,2100,2120,2140,2160,2180,2188],"format":"d","labelExpr":"datum.value===2180||datum.value===2188||datum.value===1980||datum.value===1680?'':datum.label","labelFontSize":11,"labelColor":"#111","labelPadding":3,"tickSize":3,"tickColor":"#999","domainColor":"#aaa","grid":true,"gridColor":"#e0e0e0","labelOverlap":false,"labelBound":false,"labelFlush":false}}}},
{"mark":{"type":"rule","strokeWidth":1.2,"clip":true},
"encoding":{"x":{"field":"d","type":"quantitative"},"y":{"field":"l","type":"quantitative"},"y2":{"field":"h"},
"color":{"condition":{"test":"datum.c<datum.o","value":"#b0123c"},"value":"#000000"}}},
{"mark":{"type":"rule","strokeWidth":2.6,"clip":true},
"encoding":{"x":{"field":"d","type":"quantitative"},"y":{"field":"o","type":"quantitative"},"y2":{"field":"c"},
"color":{"condition":{"test":"datum.c<datum.o","value":"#a5103a"},"value":"#000000"}}},
{"data":{"name":"bands"},"mark":{"type":"line","strokeWidth":1.2,"clip":true,"interpolate":"linear"},
"encoding":{"x":{"field":"d","type":"quantitative"},"y":{"field":"p","type":"quantitative"},"detail":{"field":"s"},
"color":{"condition":{"test":"datum.s==='ma'","value":"#1c1c78"},"value":"#b0224a"}}},
{"data":{"values":[{"tag":"2181.44","p":2181.44,"k":"price"},{"tag":"2091.31","p":2091.31,"k":"ma"},{"tag":"1986.74","p":1986.74,"k":"lower"}]},
"mark":{"type":"point","shape":"M0,0 L5,-5 L46,-5 L46,5 L5,5 Z","size":4,"filled":true,"fill":"white","strokeWidth":1,"opacity":1,"clip":false},
"encoding":{"x":{"datum":740,"type":"quantitative"},"y":{"field":"p","type":"quantitative"},
"stroke":{"condition":[{"test":"datum.k==='ma'","value":"#1c1c78"},{"test":"datum.k==='lower'","value":"#b0224a"}],"value":"#000000"}}},
{"data":{"values":[{"tag":"2181.44","p":2181.44,"k":"price"},{"tag":"2091.31","p":2091.31,"k":"ma"},{"tag":"1986.74","p":1986.74,"k":"lower"}]},
"mark":{"type":"text","align":"left","baseline":"middle","dx":5,"fontSize":11,"color":"black"},
"encoding":{"x":{"datum":740,"type":"quantitative"},"y":{"field":"p","type":"quantitative"},"text":{"field":"tag"},
"fontWeight":{"condition":{"test":"datum.k==='price'","value":"bold"},"value":"normal"}}},
{"data":{"values":[{"t":"SPX (Daily) 2181.44","p":2180,"k":"a"},{"t":"A(100) 2091.31","p":2169,"k":"b"},{"t":"NV(100,5.0) 1986.74 - 2195.88","p":2159,"k":"c"},{"t":"lume undef","p":2149,"k":"d"}]},
"mark":{"type":"text","align":"left","baseline":"middle","font":"DejaVu Sans","fontSize":10},
"encoding":{"x":{"datum":0,"type":"quantitative"},"y":{"field":"p","type":"quantitative"},"text":{"field":"t"},
"color":{"condition":[{"test":"datum.k==='a'","value":"#000000"},{"test":"datum.k==='b'","value":"#1c1c78"},{"test":"datum.k==='c'","value":"#b0224a"}],"value":"#555555"}}}
]}
],
"resolve":{"scale":{"y":"independent"}}
}
